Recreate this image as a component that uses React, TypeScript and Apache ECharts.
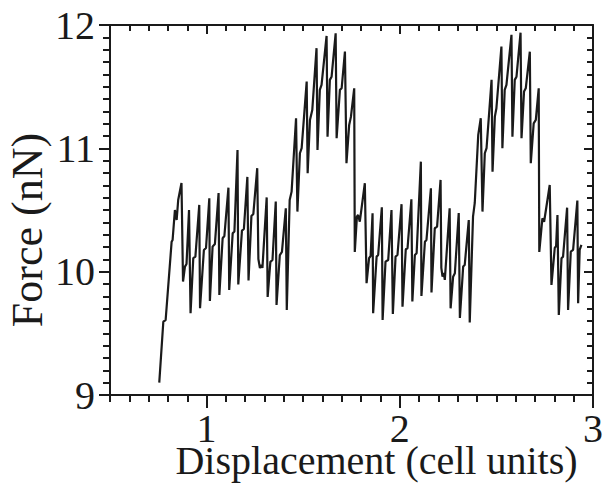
import React, { useEffect, useRef } from "react";
import * as echarts from "echarts";

const displacement = [
  0.755, 0.776, 0.788, 0.819, 0.824, 0.836, 0.845, 0.853, 0.87, 0.878,
  0.888, 0.896, 0.909, 0.917, 0.931, 0.942, 0.962, 0.966, 0.986, 0.997,
  1.014, 1.017, 1.031, 1.043, 1.062, 1.066, 1.083, 1.092, 1.113, 1.117,
  1.135, 1.144, 1.16, 1.164, 1.183, 1.193, 1.211, 1.217, 1.232, 1.242,
  1.262, 1.268, 1.276, 1.284, 1.289, 1.311, 1.316, 1.33, 1.341, 1.358,
  1.362, 1.379, 1.39, 1.41, 1.415, 1.43, 1.44, 1.463, 1.47, 1.483,
  1.492, 1.518, 1.523, 1.535, 1.547, 1.569, 1.574, 1.586, 1.595, 1.621,
  1.626, 1.638, 1.647, 1.668, 1.673, 1.69, 1.699, 1.716, 1.724, 1.738,
  1.747, 1.764, 1.767, 1.778, 1.784, 1.793, 1.819, 1.828, 1.841, 1.849,
  1.859, 1.862, 1.88, 1.888, 1.907, 1.911, 1.926, 1.94, 1.957, 1.964,
  1.978, 1.988, 2.009, 2.014, 2.031, 2.04, 2.06, 2.065, 2.078, 2.087,
  2.109, 2.112, 2.13, 2.138, 2.161, 2.164, 2.181, 2.193, 2.211, 2.215,
  2.221, 2.228, 2.233, 2.258, 2.263, 2.276, 2.285, 2.305, 2.311, 2.328,
  2.336, 2.357, 2.362, 2.379, 2.388, 2.406, 2.419, 2.428, 2.44, 2.449,
  2.475, 2.48, 2.492, 2.5, 2.526, 2.531, 2.543, 2.552, 2.578, 2.583,
  2.595, 2.604, 2.625, 2.63, 2.643, 2.652, 2.673, 2.678, 2.693, 2.704,
  2.719, 2.722, 2.738, 2.747, 2.776, 2.785, 2.802, 2.809, 2.816, 2.823,
  2.837, 2.845, 2.866, 2.871, 2.885, 2.897, 2.919, 2.923, 2.931, 2.94,
];

const force = [
  9.1, 9.594, 9.608, 10.243, 10.257, 10.5, 10.419, 10.581, 10.719, 9.92,
  10.041, 10.062, 10.5, 9.663, 10.109, 10.122, 10.541, 9.703, 10.176, 10.192,
  10.595, 9.762, 10.203, 10.225, 10.638, 9.811, 10.271, 10.289, 10.681, 9.852,
  10.311, 10.326, 10.987, 9.896, 10.333, 10.346, 10.768, 9.929, 10.452, 10.468,
  10.839, 10.103, 10.03, 10.054, 10.03, 10.602, 9.795, 10.079, 10.095, 10.568,
  9.73, 10.135, 10.16, 10.514, 9.689, 10.581, 10.649, 11.244, 10.487, 10.96,
  11.001, 11.541, 10.798, 11.23, 11.311, 11.812, 10.987, 11.474, 11.514, 11.911,
  11.095, 11.555, 11.581, 11.933, 11.082, 11.474, 11.487, 11.784, 10.879, 11.19,
  11.255, 11.487, 10.16, 10.446, 10.46, 10.405, 10.717, 9.906, 10.109, 10.127,
  10.474, 9.663, 10.122, 10.135, 10.522, 9.608, 10.081, 10.095, 10.5, 9.657,
  10.122, 10.135, 10.547, 9.716, 10.182, 10.19, 10.587, 9.758, 10.135, 10.149,
  10.892, 9.803, 10.243, 10.257, 10.676, 9.831, 10.352, 10.365, 10.744, 10.03,
  9.959, 9.989, 9.933, 10.514, 9.703, 9.959, 9.987, 10.476, 9.624, 10.041,
  10.054, 10.419, 9.588, 10.446, 10.557, 11.109, 11.244, 10.487, 10.96, 11.001,
  11.555, 10.811, 11.257, 11.325, 11.825, 11.001, 11.474, 11.514, 11.92, 11.095,
  11.555, 11.581, 11.938, 11.082, 11.46, 11.487, 11.784, 10.879, 11.203, 11.23,
  11.487, 10.16, 10.433, 10.405, 10.703, 9.892, 10.192, 10.208, 10.46, 9.649,
  10.109, 10.122, 10.519, 9.689, 10.162, 10.176, 10.576, 9.744, 10.176, 10.217,
];

const xMajorTicks = [1, 2, 3];
const xMin = 0.5;
const xMax = 3;
const yMin = 9;
const yMax = 12;

const FONT = "'Liberation Serif', 'Times New Roman', serif";
const INK = "#1a1a1a";

export default function App() {
  const ref = useRef<HTMLDivElement>(null);

  useEffect(() => {
    if (!ref.current) return;
    const chart = echarts.init(ref.current, undefined, { renderer: "svg" });
    const points = displacement.map((x, i) => [x, force[i]]);

    const baseX = (position: "bottom" | "top") => ({
      type: "value" as const,
      position,
      min: xMin,
      max: xMax,
      splitLine: { show: false },
      axisLine: { show: false },
      axisLabel: { show: false },
    });
    const baseY = (position: "left" | "right") => ({
      type: "value" as const,
      position,
      min: yMin,
      max: yMax,
      splitLine: { show: false },
      axisLine: { show: false },
      axisLabel: { show: false },
    });

    chart.setOption({
      animation: false,
      grid: {
        left: 110,
        right: 10,
        top: 25,
        bottom: 88,
        containLabel: false,
        outerBoundsMode: "none",
      },
      xAxis: [
        {
          ...baseX("bottom"),
          interval: 0.1,
          axisLine: { show: true, onZero: false, lineStyle: { color: INK, width: 2 } },
          axisTick: { show: true, inside: false, length: 7, lineStyle: { color: INK, width: 2 } },
          name: "Displacement (cell units)",
          nameLocation: "middle",
          nameGap: 55,
          nameTextStyle: {
            fontFamily: FONT,
            fontSize: 40,
            color: INK,
            lineHeight: 20,
            padding: [0, 0, 0, 50],
          },
        },
        {
          ...baseX("bottom"),
          axisTick: {
            show: true,
            inside: false,
            length: 13,
            customValues: xMajorTicks,
            lineStyle: { color: INK, width: 2 },
          },
          axisLabel: {
            show: true,
            customValues: xMajorTicks,
            margin: 23,
            fontFamily: FONT,
            fontSize: 40,
            lineHeight: 20,
            color: INK,
          },
        },
        {
          ...baseX("top"),
          interval: 0.1,
          axisLine: { show: true, onZero: false, lineStyle: { color: INK, width: 2 } },
          axisTick: { show: true, inside: true, length: 6, lineStyle: { color: INK, width: 2 } },
        },
        {
          ...baseX("top"),
          axisTick: {
            show: true,
            inside: true,
            length: 9,
            customValues: xMajorTicks,
            lineStyle: { color: INK, width: 2 },
          },
        },
      ],
      yAxis: [
        {
          ...baseY("left"),
          interval: 0.1,
          axisLine: { show: true, onZero: false, lineStyle: { color: INK, width: 2 } },
          axisTick: { show: true, inside: false, length: 7, lineStyle: { color: INK, width: 2 } },
          name: "Force (nN)",
          nameLocation: "middle",
          nameGap: 61,
          nameTextStyle: {
            fontFamily: FONT,
            fontSize: 44,
            color: INK,
            padding: [0, 40, 0, 0],
          },
        },
        {
          ...baseY("left"),
          interval: 1,
          axisTick: { show: true, inside: false, length: 11, lineStyle: { color: INK, width: 2 } },
          axisLabel: {
            show: true,
            margin: 15,
            fontFamily: FONT,
            fontSize: 40,
            color: INK,
          },
        },
        {
          ...baseY("right"),
          interval: 0.1,
          axisLine: { show: true, onZero: false, lineStyle: { color: INK, width: 2 } },
          axisTick: { show: true, inside: true, length: 6, lineStyle: { color: INK, width: 2 } },
        },
        {
          ...baseY("right"),
          interval: 1,
          axisTick: { show: true, inside: true, length: 9, lineStyle: { color: INK, width: 2 } },
        },
      ],
      series: [
        {
          type: "line",
          xAxisIndex: 0,
          yAxisIndex: 0,
          data: points,
          showSymbol: false,
          symbol: "none",
          lineStyle: { color: INK, width: 2.2 },
          itemStyle: { color: INK },
          z: 5,
        },
      ],
    });

    return () => chart.dispose();
  }, []);

  return (
    <div
      ref={ref}
      style={{ position: "absolute", left: 0, top: 0, width: 603, height: 483, background: "#fff" }}
    />
  );
}
